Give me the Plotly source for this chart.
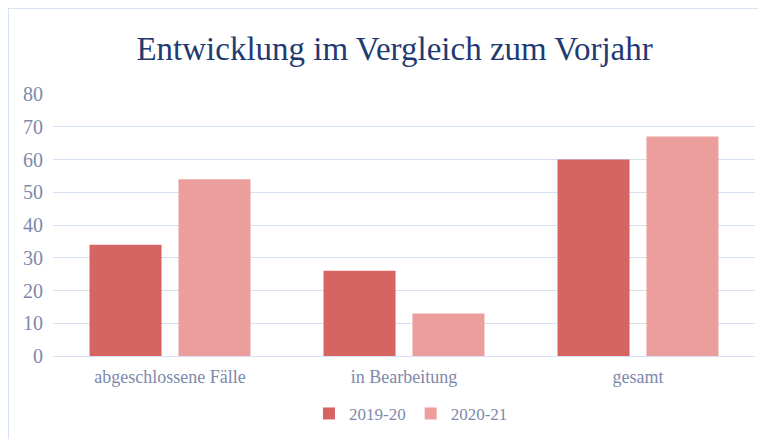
import plotly.graph_objects as go

categories = ["abgeschlossene Fälle", "in Bearbeitung", "gesamt"]
series_names = ["2019-20", "2020-21"]
values_2019_20 = [34, 26, 60]
values_2020_21 = [54, 13, 67]
y_ticks = [0, 10, 20, 30, 40, 50, 60, 70, 80]

FONT = "Liberation Serif"
TICK_COLOR = "#7D89AA"
GRID = "#D5E1F2"
BORDER = "#CCDCF0"

fig = go.Figure()
fig.add_trace(go.Bar(name=series_names[0], x=categories, y=values_2019_20,
                     marker=dict(color="#D66462", line=dict(width=0))))
fig.add_trace(go.Bar(name=series_names[1], x=categories, y=values_2020_21,
                     marker=dict(color="#EC9E9D", line=dict(width=0))))

fig.update_layout(
    width=758, height=431,
    margin=dict(l=45, r=11, t=86, b=83, autoexpand=False),
    paper_bgcolor="white", plot_bgcolor="white",
    barmode="group", bargap=0.24, bargroupgap=0.19,
    title=dict(text="Entwicklung im Vergleich zum Vorjahr", x=0.51, xanchor="center",
               y=0.905, yanchor="middle", yref="container",
               font=dict(family=FONT, size=33, color="#1F3B72")),
    font=dict(family=FONT, color=TICK_COLOR),
    xaxis=dict(showgrid=False, showline=True, linecolor=GRID, linewidth=1,
               tickfont=dict(family=FONT, size=18, color=TICK_COLOR), ticks="",
               ticklabelstandoff=4),
    yaxis=dict(range=[0, 80], tickvals=y_ticks, showgrid=True, gridcolor=GRID, gridwidth=1,
               zeroline=False, showline=False, ticks="",
               tickfont=dict(family=FONT, size=20, color=TICK_COLOR), ticklabelstandoff=9),
    legend=dict(orientation="h", x=0.51, xanchor="center", y=-0.221, yanchor="middle",
                font=dict(family=FONT, size=17, color=TICK_COLOR), itemwidth=30,
                traceorder="normal"),
    shapes=[
        dict(type="line", xref="paper", yref="paper", x0=-0.064, x1=1.02, y0=1.328, y1=1.328,
             line=dict(color=BORDER, width=1.5)),
        dict(type="line", xref="paper", yref="paper", x0=-0.064, x1=-0.064, y0=1.328, y1=-0.32,
             line=dict(color=BORDER, width=1.5)),
    ],
)

fig.write_html("out.html")
